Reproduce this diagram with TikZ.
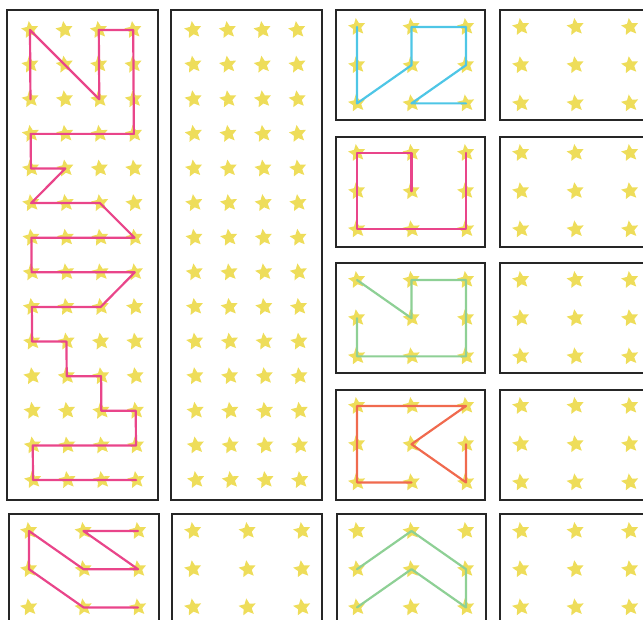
\documentclass[tikz,border=0pt]{standalone}
\usetikzlibrary{shapes.geometric}
\definecolor{staryellow}{HTML}{EEDD5A}
\definecolor{pinkline}{HTML}{E9458A}
\definecolor{blueline}{HTML}{4EC6E6}
\definecolor{greenline}{HTML}{8ED095}
\definecolor{orangeline}{HTML}{F06A4E}
\begin{document}
\begin{tikzpicture}[x=1pt,y=-1pt,
  starnode/.style={star, star points=5, star point ratio=2.1, minimum size=18pt, inner sep=0pt, fill=staryellow, draw=none, rotate=8},
  frame/.style={draw=black!85, line width=1.7pt},
  trace/.style={line width=2.2pt, line join=round, line cap=round}]
\useasboundingbox (0,0) rectangle (643,620);
\clip (0,0) rectangle (643,620);
% frames
\draw[frame] (7,10) rectangle (158,500);
\draw[frame] (171,10) rectangle (322,500);
\foreach \t in {10,137,263,390} {
  \draw[frame] (336,\t) rectangle (485,\t+110);
  \draw[frame] (500,\t) rectangle (670,\t+110);
}
\draw[frame] (9,514) rectangle (159,650);
\draw[frame] (172,514) rectangle (322,650);
\draw[frame] (337,514) rectangle (486,650);
\draw[frame] (500,514) rectangle (670,650);
% stars in tall boxes
\foreach \c in {0,...,3} \foreach \r in {0,...,13} {
  \node[starnode] (a-\c-\r) at ({30+34.4*\c+3*\r/13},{30+34.62*\r}) {};
  \node[starnode] (b-\c-\r) at ({193+34.7*\c+3*\r/13},{30+34.62*\r}) {};
}
% stars in small boxes
\foreach \nm/\x/\y in {c1/357/27, c2/357/153, c3/357/280, c4/357/406, d1/521/27, d2/521/153, d3/521/280, d4/521/406, e1/29/531, e2/193/531, e3/357/531, e4/521/531}
  \foreach \c in {0,1,2} \foreach \r in {0,1,2}
    \node[starnode] (\nm-\c-\r) at ({\x+54.5*\c},{\y+38.2*\r}) {};
% traces
\draw[trace, pinkline] (a-0-2.center) -- (a-0-0.center) -- (a-2-2.center) -- (a-2-0.center) -- (a-3-0.center) -- (a-3-3.center) -- (a-0-3.center) -- (a-0-4.center) -- (a-1-4.center) -- (a-0-5.center) -- (a-2-5.center) -- (a-3-6.center) -- (a-0-6.center) -- (a-0-7.center) -- (a-3-7.center) -- (a-2-8.center) -- (a-0-8.center) -- (a-0-9.center) -- (a-1-9.center) -- (a-1-10.center) -- (a-2-10.center) -- (a-2-11.center) -- (a-3-11.center) -- (a-3-12.center) -- (a-0-12.center) -- (a-0-13.center) -- (a-3-13.center);
\draw[trace, blueline] (c1-0-0.center) -- (c1-0-2.center) -- (c1-1-1.center) -- (c1-1-0.center) -- (c1-2-0.center) -- (c1-2-1.center) -- (c1-1-2.center) -- (c1-2-2.center);
\draw[trace, pinkline] (c2-1-1.center) -- (c2-1-0.center) -- (c2-0-0.center) -- (c2-0-2.center) -- (c2-2-2.center) -- (c2-2-0.center);
\draw[trace, greenline] (c3-0-0.center) -- (c3-1-1.center) -- (c3-1-0.center) -- (c3-2-0.center) -- (c3-2-2.center) -- (c3-0-2.center) -- (c3-0-1.center);
\draw[trace, orangeline] (c4-1-2.center) -- (c4-0-2.center) -- (c4-0-0.center) -- (c4-2-0.center) -- (c4-1-1.center) -- (c4-2-2.center) -- (c4-2-1.center);
\draw[trace, pinkline] (e1-2-0.center) -- (e1-1-0.center) -- (e1-2-1.center) -- (e1-1-1.center) -- (e1-0-0.center) -- (e1-0-1.center) -- (e1-1-2.center) -- (e1-2-2.center);
\draw[trace, greenline] (e3-0-1.center) -- (e3-1-0.center) -- (e3-2-1.center) -- (e3-2-2.center) -- (e3-1-1.center) -- (e3-0-2.center);
\end{tikzpicture}
\end{document}
